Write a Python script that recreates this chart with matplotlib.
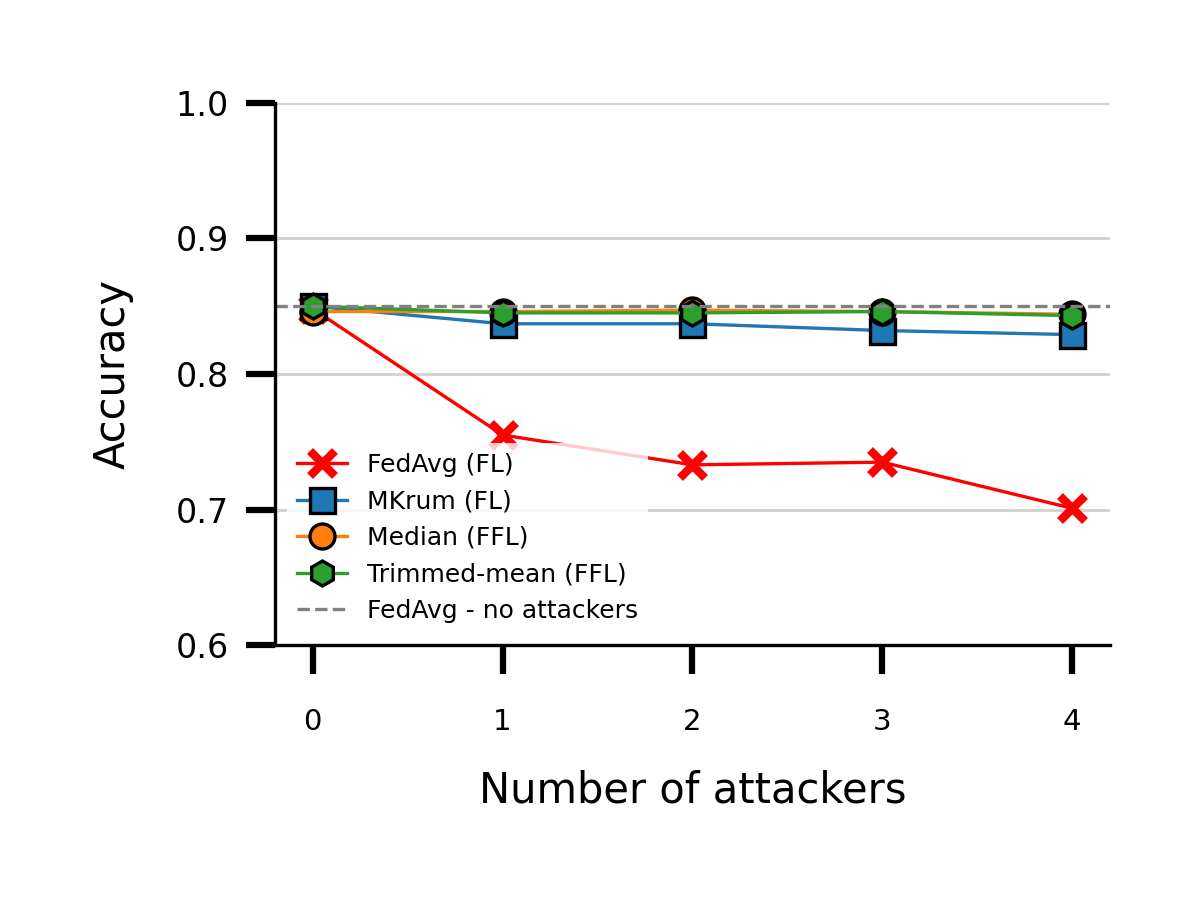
import matplotlib
matplotlib.use("Agg")
import matplotlib.pyplot as plt

attackers = [0, 1, 2, 3, 4]
fedavg = [0.848, 0.755, 0.733, 0.735, 0.701]
mkrum = [0.850, 0.837, 0.837, 0.832, 0.829]
median = [0.846, 0.846, 0.847, 0.846, 0.844]
trimmed = [0.850, 0.845, 0.845, 0.846, 0.843]
baseline = 0.85

fig = plt.figure(figsize=(4, 3), dpi=300)
ax = fig.add_axes([0.229, 0.283, 0.696, 0.603])
ax.plot(attackers, fedavg, color="red", marker="x", ms=6, mew=2, lw=0.8, label="FedAvg (FL)")
ax.plot(attackers, mkrum, color="#1f77b4", marker="s", ms=6, mec="black", mew=0.8, lw=0.8, label="MKrum (FL)")
ax.plot(attackers, median, color="#ff7f0e", marker="o", ms=6, mec="black", mew=0.8, lw=0.8, label="Median (FFL)")
ax.plot(attackers, trimmed, color="#2ca02c", marker="h", ms=6, mec="black", mew=0.8, lw=0.8, label="Trimmed-mean (FFL)")
ax.axhline(baseline, color="gray", ls="--", lw=0.8, label="FedAvg - no attackers")
ax.set_ylim(0.6, 1.0)
ax.set_xlim(-0.2, 4.2)
ax.set_xticks(attackers)
ax.set_yticks([0.6, 0.7, 0.8, 0.9, 1.0])
ax.set_yticklabels(["0.6", "0.7", "0.8", "0.9", "1.0"])
ax.grid(axis="y", color="lightgray", lw=0.7)
ax.set_axisbelow(True)
for s in ["top", "right"]:
    ax.spines[s].set_visible(False)
ax.spines["left"].set_linewidth(0.8)
ax.spines["bottom"].set_linewidth(0.8)
ax.tick_params(axis="both", direction="out", length=7, width=1.5)
ax.tick_params(axis="x", pad=8, labelsize=7)
ax.tick_params(axis="y", pad=4, labelsize=8)
ax.set_xlabel("Number of attackers", fontsize=10, labelpad=8)
ax.set_ylabel("Accuracy", fontsize=10, labelpad=10)
leg = ax.legend(loc="lower left", fontsize=6, frameon=True, edgecolor="none", framealpha=0.8)
fig.savefig("out.png", dpi=300)
